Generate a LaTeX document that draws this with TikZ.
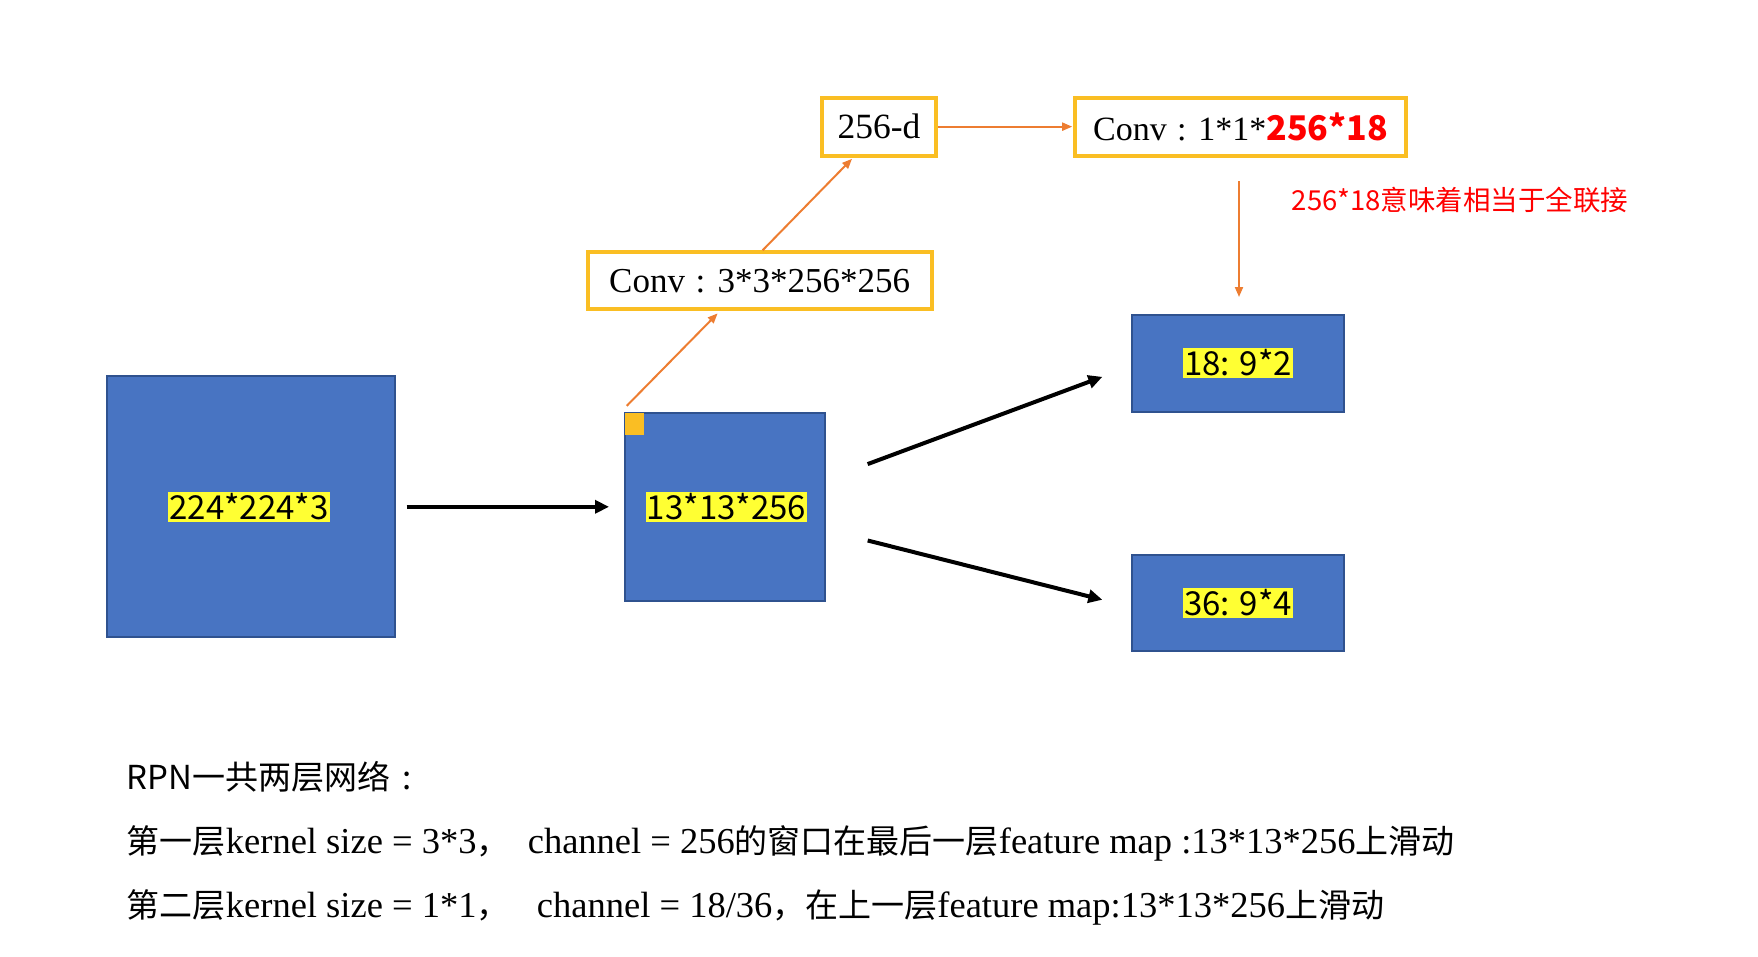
\documentclass[tikz,border=0pt]{standalone}
\usepackage{fontspec}
\setmainfont{Liberation Serif}
\newfontfamily\cjk{Noto Sans CJK SC}
\usetikzlibrary{arrows.meta}
\definecolor{boxblue}{RGB}{72,116,194}
\definecolor{boxborder}{RGB}{47,82,143}
\definecolor{gold}{RGB}{250,190,35}
\definecolor{arrorange}{RGB}{237,125,49}
\definecolor{hilite}{RGB}{255,255,51}
\definecolor{redtxt}{RGB}{255,0,0}
\newcommand\zh[1]{{\cjk\fontsize{33}{38}\selectfont #1}}
\newcommand\colonc{\hspace{0.3em}:\hspace{0.35em}}
\tikzset{
  bluebox/.style={draw=boxborder, line width=2pt, fill=boxblue, inner sep=0pt},
  goldbox/.style={draw=gold, line width=4pt, fill=white, inner sep=0pt, font=\fontsize{34}{40}\selectfont},
  hl/.style={fill=hilite, inner xsep=1pt, inner ysep=1.5pt, font=\cjk\fontsize{33}{38}\selectfont},
  oarrow/.style={draw=arrorange, line width=2pt, -{Triangle[length=10pt,width=8pt]}},
  barrow/.style={draw=black, line width=4pt, -{Triangle[length=14pt,width=13pt]}},
  txt/.style={anchor=west, inner sep=0pt, font=\fontsize{36.5}{40}\selectfont},
}
\begin{document}
\begin{tikzpicture}[x=1pt,y=-1pt]
\useasboundingbox (0,0) rectangle (1758,956);
% blue boxes
\node[bluebox, minimum width=288.2pt, minimum height=261.2pt] (in) at (250.6,506.2) {};
\node[hl] (tin) at (249,507) {224*224*3};
\node[bluebox, minimum width=200.7pt, minimum height=188.4pt] (mid) at (724.85,506.8) {};
\node[hl] (tmid) at (726.5,507) {13*13*256};
\node[fill=gold, inner sep=0pt, minimum width=19pt, minimum height=22pt, anchor=north west] (win) at (624.5,412.6) {};
\node[bluebox, minimum width=211.9pt, minimum height=96.5pt] (r18) at (1238.35,363.25) {};
\node[hl] (t18) at (1238,363) {18: 9*2};
\node[bluebox, minimum width=211.9pt, minimum height=96.5pt] (r36) at (1238.35,603.2) {};
\node[hl] (t36) at (1238,603) {36: 9*4};
% gold boxes
\node[goldbox, minimum width=344.2pt, minimum height=57.1pt, font=\fontsize{35}{40}\selectfont] (conv1) at (759.6,280.85) {Conv\colonc 3*3*256*256};
\node[goldbox, minimum width=114.4pt, minimum height=58.3pt, font=\fontsize{35.5}{40}\selectfont] (d256) at (879,126.65) {256-d};
\node[goldbox, minimum width=330.8pt, minimum height=58.3pt] (conv2) at (1240.6,126.65) {Conv\colonc 1*1*{\cjk\bfseries\color{redtxt}256*18}};
\node[anchor=west, inner sep=0pt, text=redtxt, font=\cjk\fontsize{27.5}{32}\selectfont] (note) at (1291.6,199.6) {256*18意味着相当于全联接};
% orange connectors
\coordinate (ws) at (626.7,405.9);
\draw[oarrow] (ws) -- ([xshift=-42pt,yshift=-2pt]conv1.south);
\draw[oarrow] ([xshift=3pt]conv1.north) -- ([xshift=-27pt,yshift=-1pt]d256.south);
\draw[oarrow, shorten >=1pt] (d256.east) -- (conv2.west);
\draw[oarrow, shorten <=23.6pt, shorten >=17pt] ([xshift=-1.6pt]conv2.south) -- ([xshift=-1.6pt]conv2.south |- r18.north);
% black connectors
\draw[barrow, shorten <=11pt, shorten >=14.5pt] (in.east |- mid.center) -- (mid.west);
\draw[barrow, shorten <=44.2pt, shorten >=31pt] ([yshift=27.3pt]mid.east) -- ([yshift=-2.8pt]r18.west);
\draw[barrow, shorten <=42.8pt, shorten >=30pt] ([yshift=-23.2pt]mid.east) -- ([yshift=-3.9pt]r36.west);
% bottom text
\node[txt] (l1) at (126.7,777) {\zh{RPN一共两层网络\hspace{0.35em}:}};
\node[txt] (l2) at (126.7,843) {\zh{第一层}kernel size = 3*3\zh{，}\ \ channel = 256\zh{的窗口在最后一层}feature map :13*13*256\zh{上滑动}};
\node[txt] (l3) at (126.7,907) {\zh{第二层}kernel size = 1*1\zh{，}\ \ \ channel = 18/36\zh{，在上一层}feature map:13*13*256\zh{上滑动}};
\end{tikzpicture}
\end{document}
